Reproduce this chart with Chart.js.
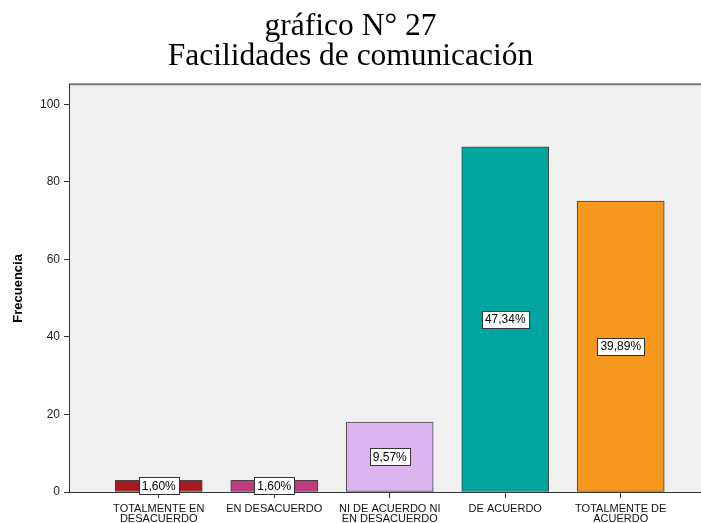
<!DOCTYPE html>
<html>
<head>
<meta charset="utf-8">
<script src="https://cdn.jsdelivr.net/npm/chart.js@4/dist/chart.umd.min.js"></script>
<style>
  html, body { margin: 0; padding: 0; background: #ffffff; }
  #wrap { width: 701px; height: 523px; }
</style>
</head>
<body>
<div id="wrap"><canvas id="c" width="701" height="523"></canvas></div>
<script>
const titleLines = ["gráfico N° 27", "Facilidades de comunicación"];
const categories = [
  ["TOTALMENTE EN", "DESACUERDO"],
  ["EN DESACUERDO"],
  ["NI DE ACUERDO NI", "EN DESACUERDO"],
  ["DE ACUERDO"],
  ["TOTALMENTE DE", "ACUERDO"]
];
const frequencies = [3, 3, 18, 89, 75];
const percentLabels = ["1,60%", "1,60%", "9,57%", "47,34%", "39,89%"];
const barColors = ["#a8181e", "#c23b7f", "#dcb4f0", "#00a5a0", "#f7981e"];
const yTicks = [0, 20, 40, 60, 80, 100];
const yAxisTitle = "Frecuencia";

const positions = categories.map((_, i) => i + 1);
const points = positions.map((p, i) => ({ x: p, y: frequencies[i] }));

const plotBg = {
  id: 'plotBg',
  beforeDraw(chart) {
    const { ctx, chartArea: a } = chart;
    ctx.save();
    ctx.fillStyle = '#f0f0f0';
    ctx.fillRect(a.left, a.top, a.right - a.left, a.bottom - a.top);
    ctx.strokeStyle = '#7a7a7a';
    ctx.lineWidth = 2;
    ctx.beginPath();
    ctx.moveTo(a.left, a.top - 0.5);
    ctx.lineTo(a.right, a.top - 0.5);
    ctx.stroke();
    ctx.restore();
  }
};

const boxLabels = {
  id: 'boxLabels',
  afterDatasetsDraw(chart) {
    const { ctx } = chart;
    const meta = chart.getDatasetMeta(0);
    ctx.save();
    ctx.font = '12px "Liberation Sans", Arial, sans-serif';
    ctx.textAlign = 'center';
    ctx.textBaseline = 'middle';
    meta.data.forEach((bar, i) => {
      const txt = percentLabels[i];
      const cx = bar.x;
      const cy = (bar.y + bar.base) / 2;
      const w = ctx.measureText(txt).width + 6;
      const h = 17;
      const x0 = Math.round(cx - w / 2) + 0.5;
      const y0 = Math.round(cy - h / 2) + 0.5;
      ctx.fillStyle = '#ffffff';
      ctx.fillRect(x0, y0, Math.round(w), h);
      ctx.strokeStyle = '#333333';
      ctx.lineWidth = 1;
      ctx.strokeRect(x0, y0, Math.round(w), h);
      ctx.fillStyle = '#000000';
      ctx.fillText(txt, cx, cy + 0.5);
    });
    ctx.restore();
  }
};

new Chart(document.getElementById('c'), {
  type: 'bar',
  data: {
    datasets: [{
      data: points,
      backgroundColor: barColors,
      borderColor: '#444444',
      borderWidth: 1,
      borderSkipped: false,
      barThickness: 87
    }]
  },
  options: {
    responsive: false,
    animation: false,
    devicePixelRatio: 1,
    layout: { padding: { left: 0, right: 0, top: 0, bottom: 0 } },
    plugins: {
      legend: { display: false },
      tooltip: { enabled: false },
      title: {
        display: true,
        text: titleLines,
        color: '#000000',
        font: { family: '"Liberation Serif", "Times New Roman", serif', size: 31.5, weight: 'normal', lineHeight: 0.95 },
        padding: { top: 12, bottom: 13 }
      }
    },
    scales: {
      x: {
        type: 'linear',
        min: 0.223,
        max: 5.695,
        offset: false,
        afterBuildTicks(axis) { axis.ticks = positions.map(v => ({ value: v })); },
        afterFit(axis) { axis.height = 31; },
        grid: { offset: false, display: true, drawOnChartArea: false, drawTicks: true, tickLength: 6, tickColor: '#333333', tickWidth: 1 },
        border: { display: true, color: '#333333', width: 1 },
        ticks: {
          autoSkip: false,
          maxRotation: 0,
          padding: 6,
          color: '#111111',
          font: { family: '"Liberation Sans", Arial, sans-serif', size: 11, lineHeight: 0.9 },
          callback(value) {
            const i = Math.round(value) - 1;
            return categories[i] || '';
          }
        }
      },
      y: {
        min: 0,
        max: 105,
        afterBuildTicks(axis) { axis.ticks = yTicks.map(v => ({ value: v })); },
        afterFit(axis) { axis.width = 69; },
        grid: { drawOnChartArea: false, drawTicks: true, tickLength: 5, tickColor: '#333333', tickWidth: 1 },
        border: { display: true, color: '#333333', width: 1 },
        ticks: {
          padding: 4,
          color: '#222222',
          font: { family: '"Liberation Sans", Arial, sans-serif', size: 12 }
        },
        title: {
          display: true,
          text: yAxisTitle,
          color: '#000000',
          font: { family: '"Liberation Sans", Arial, sans-serif', size: 13, weight: 'bold' },
          padding: { top: 11, bottom: 0 }
        }
      }
    }
  },
  plugins: [plotBg, boxLabels]
});
</script>
</body>
</html>
